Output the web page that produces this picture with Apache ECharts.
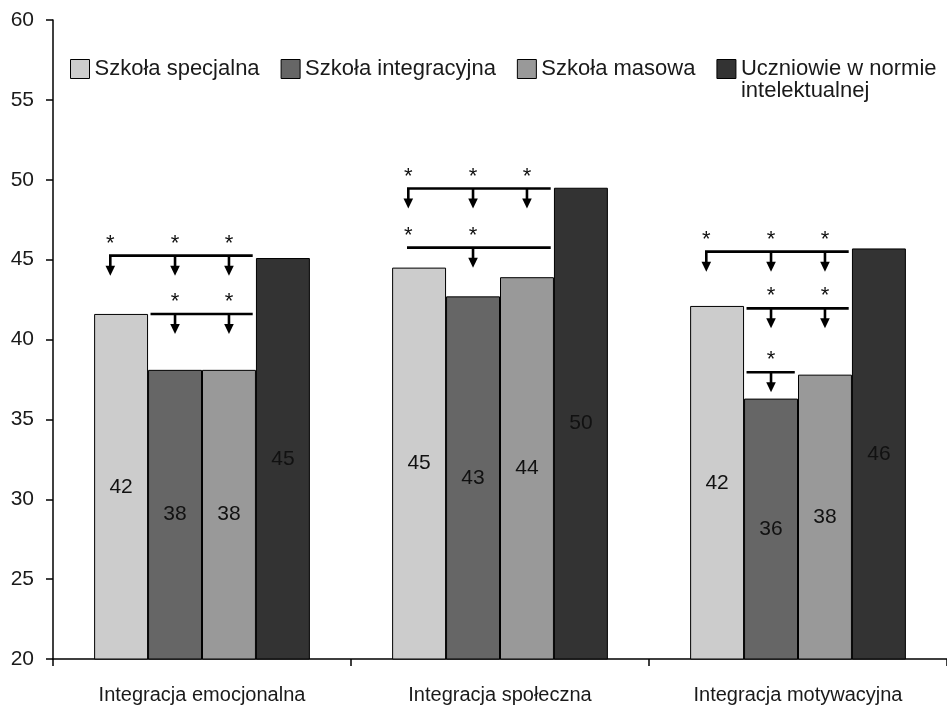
<!DOCTYPE html>
<html>
<head>
<meta charset="utf-8">
<script src="https://cdn.jsdelivr.net/npm/echarts@6/dist/echarts.min.js"></script>
<style>
  html, body { margin: 0; padding: 0; background: #fff; }
  #chart { width: 947px; height: 705px; }
</style>
</head>
<body>
<div id="chart"></div>
<script>
// Mean integration scores by school type
const categories = ['Integracja emocjonalna', 'Integracja społeczna', 'Integracja motywacyjna'];
const seriesNames = ['Szkoła specjalna', 'Szkoła integracyjna', 'Szkoła masowa', 'Uczniowie w normie intelektualnej'];
const specjalna = [41.6, 44.5, 42.1];
const integracyjna = [38.1, 42.7, 36.3];
const masowa = [38.1, 43.9, 37.8];
const wNormie = [45.1, 49.5, 45.7];
const yTicks = { min: 20, max: 60, step: 5 };

// Significance brackets: category, level on the value axis, groups spanned,
// groups marked with an arrow and groups marked with an asterisk
const bracketCategory = [0, 0, 1, 1, 2, 2, 2];
const bracketLevel = [45.25, 41.6, 49.45, 45.75, 45.5, 41.95, 37.95];
const bracketFrom = [0, 1, 0, 0, 0, 1, 1];
const bracketTo = [2, 2, 2, 2, 2, 2, 1];
const bracketArrows = [[0, 1, 2], [1, 2], [0, 1, 2], [1], [0, 1, 2], [1, 2], [1]];
const bracketStars = [[0, 1, 2], [1, 2], [0, 1, 2], [0, 1], [0, 1, 2], [1, 2], [1]];

const FONT = "'Liberation Sans', Arial, sans-serif";
const TEXT = '#1a1a1a';
const COLORS = ['#cccccc', '#666666', '#999999', '#333333'];
const GAP = 0.276;
const GROUPS = 4;

const chart = echarts.init(document.getElementById('chart'), null, { renderer: 'canvas' });

function barSeries(name, values, color) {
  return {
    name: name,
    type: 'bar',
    data: values,
    barGap: '0%',
    barCategoryGap: (GAP * 100) + '%',
    itemStyle: { color: color, borderColor: '#000', borderWidth: 1 },
    label: {
      show: true,
      position: 'inside',
      formatter: p => String(Math.round(p.value)),
      fontFamily: FONT,
      fontSize: 21,
      color: '#111'
    },
    emphasis: { disabled: true },
    z: 2
  };
}

function renderBracket(params, api) {
  const i = params.dataIndex;
  const c = api.coord([api.value(0), api.value(1)]);
  const band = api.size([1, 0])[0];
  const groupW = band * (1 - GAP);
  const barW = groupW / GROUPS;
  const left = c[0] - groupW / 2;
  const y = c[1];
  const xAt = g => (g === 0 ? left + 0.3 * barW : left + (g + 0.5) * barW);
  const x0 = bracketFrom[i] === 0 ? xAt(0) : left + (bracketFrom[i] + 0.07) * barW;
  const x1 = left + (bracketTo[i] + 1 - 0.06) * barW;
  const lw = 2.6;
  const children = [{
    type: 'line',
    shape: { x1: x0 - lw / 2, y1: y, x2: x1, y2: y },
    style: { stroke: '#000', lineWidth: lw }
  }];
  bracketArrows[i].forEach(g => {
    const x = xAt(g);
    children.push({
      type: 'line',
      shape: { x1: x, y1: y, x2: x, y2: y + 11 },
      style: { stroke: '#000', lineWidth: lw }
    });
    children.push({
      type: 'polygon',
      shape: { points: [[x - 4.8, y + 10], [x + 4.8, y + 10], [x, y + 20]] },
      style: { fill: '#000' }
    });
  });
  bracketStars[i].forEach(g => {
    children.push({
      type: 'text',
      style: {
        text: '*', x: xAt(g), y: y - 12,
        align: 'center', verticalAlign: 'middle',
        fontSize: 22, fontFamily: FONT, fill: '#111'
      }
    });
  });
  return { type: 'group', children: children };
}

const option = {
  animation: false,
  backgroundColor: '#ffffff',
  textStyle: { fontFamily: FONT },
  legend: {
    left: 70,
    top: 36,
    padding: 0,
    itemWidth: 19,
    itemHeight: 19,
    itemGap: 21,
    icon: 'rect',
    selectedMode: false,
    itemStyle: { borderColor: '#000', borderWidth: 1 },
    textStyle: { fontFamily: FONT, fontSize: 22, color: TEXT, lineHeight: 22 },
    // the long label wraps below its first line, which stays level with the swatch
    formatter: name => (name === seriesNames[3] ? ' \n' + name.replace('normie ', 'normie\n') : name),
    data: seriesNames
  },
  grid: { left: 53, top: 20, width: 899, height: 639, containLabel: false },
  xAxis: {
    type: 'category',
    data: categories,
    axisLine: { lineStyle: { color: '#000', width: 1.5 } },
    axisTick: { show: true, length: 7, lineStyle: { color: '#000', width: 1.5 } },
    axisLabel: { fontFamily: FONT, fontSize: 20, color: TEXT, margin: 26 },
    splitLine: { show: false }
  },
  yAxis: {
    type: 'value',
    min: yTicks.min,
    max: yTicks.max,
    interval: yTicks.step,
    axisLine: { show: true, lineStyle: { color: '#000', width: 1.5 } },
    axisTick: { show: true, length: 7, lineStyle: { color: '#000', width: 1.5 } },
    axisLabel: { fontFamily: FONT, fontSize: 21, color: TEXT, margin: 19 },
    splitLine: { show: false }
  },
  series: [
    barSeries(seriesNames[0], specjalna, COLORS[0]),
    barSeries(seriesNames[1], integracyjna, COLORS[1]),
    barSeries(seriesNames[2], masowa, COLORS[2]),
    barSeries(seriesNames[3], wNormie, COLORS[3]),
    {
      type: 'custom',
      coordinateSystem: 'cartesian2d',
      renderItem: renderBracket,
      data: bracketLevel.map((lvl, i) => [bracketCategory[i], lvl]),
      encode: { x: 0, y: 1 },
      silent: true,
      z: 5
    }
  ]
};

chart.setOption(option);
</script>
</body>
</html>
